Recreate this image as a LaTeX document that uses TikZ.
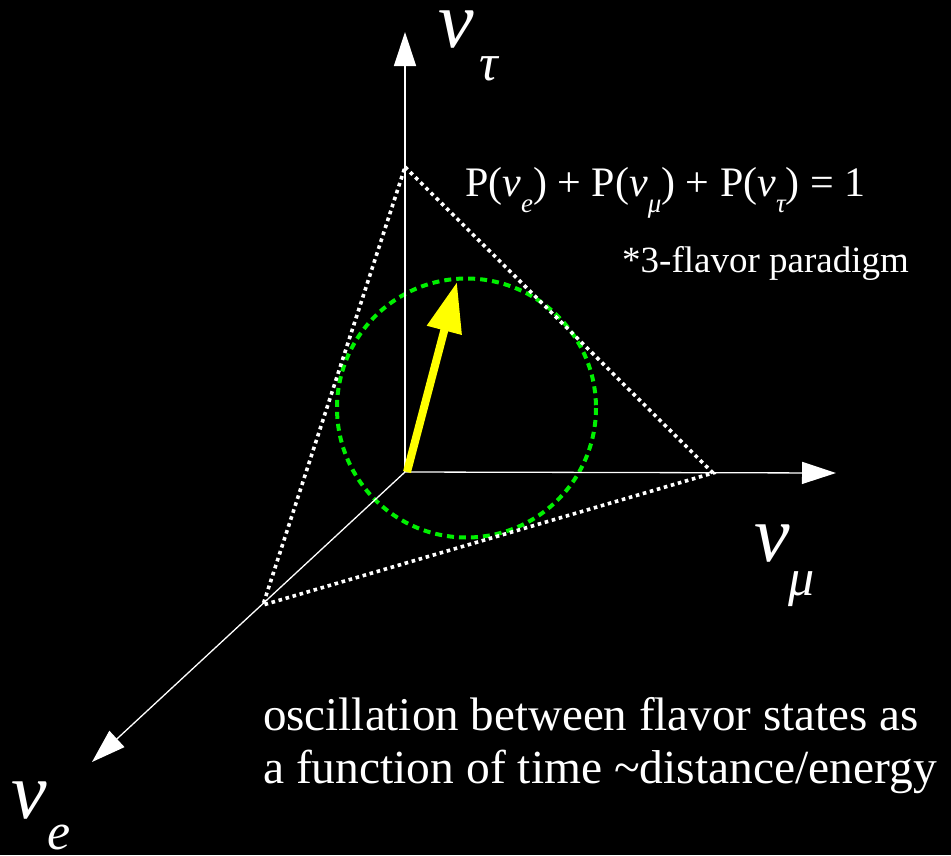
\documentclass[tikz,border=0pt]{standalone}
\usepackage{fontspec}
\setmainfont{Liberation Serif}
\usetikzlibrary{arrows.meta}
\definecolor{grn}{RGB}{0,240,0}
\definecolor{ylw}{RGB}{255,255,0}
\tikzset{
  axis/.style={white, line width=1.3pt, -{Triangle[length=34pt,width=22pt]}},
  tri/.style={white, line width=3.6pt, dash pattern=on 3.6pt off 3.7pt},
  ring/.style={grn, line width=4pt, dash pattern=on 7pt off 5pt},
  vec/.style={ylw, line width=8pt, -{Triangle[length=50pt,width=34pt]}},
  lbl/.style={text=white, inner sep=0pt, anchor=base west},
  big/.style={lbl, text height=38pt, text depth=0pt, font=\fontsize{80}{80}\selectfont\itshape},
  sub/.style={lbl, text height=25pt, text depth=0pt, font=\fontsize{52}{52}\selectfont\itshape},
}
\begin{document}
\begin{tikzpicture}[x=1pt,y=-1pt]
\fill[black] (0,0) rectangle (951,855);
\useasboundingbox (0,0) rectangle (951,855);
\coordinate (O) at (405,472);
\coordinate (T) at (405,32);
\coordinate (M) at (836,473);
\coordinate (E) at (92,762);
\coordinate (A) at (405,167);
\coordinate (B) at (713,473);
\coordinate (C) at (263,605);
\coordinate (Y0) at (407,472);
\coordinate (Y1) at (457,282);
\draw[ring] (466.5,408) circle (129.5);
\draw[axis] (O) -- (T);
\draw[axis] (O) -- (M);
\draw[axis] (O) -- (E);
\draw[tri] (A) -- (B) -- (C) -- cycle;
\draw[vec] (Y0) -- (Y1);
\node[big] (vt) at (438,47) {v};
\node[sub] (tt) at (479,80) {τ};
\node[big] (vm) at (754,561) {v};
\node[sub] (tm) at (788,595) {μ};
\node[big] (ve) at (11,818) {v};
\node[sub] (te) at (47,849) {e};
\node[lbl, font=\fontsize{42}{42}\selectfont] (eq) at (465,196)
  {P(\textit{v}\raisebox{-16pt}{\fontsize{27}{27}\selectfont\itshape e})
   + P(\textit{v}\raisebox{-16pt}{\fontsize{27}{27}\selectfont\itshape μ})
   + P(\textit{v}\raisebox{-16pt}{\fontsize{27}{27}\selectfont\itshape τ}) = 1};
\node[lbl, font=\fontsize{37}{37}\selectfont] (fl) at (622,272) {*3-flavor paradigm};
\node[lbl, font=\fontsize{47}{47}\selectfont] (l1) at (263,730) {oscillation between flavor states as};
\node[lbl, font=\fontsize{47.5}{47.5}\selectfont] (l2) at (263,783) {a function of time \textasciitilde distance/energy};
\end{tikzpicture}
\end{document}
